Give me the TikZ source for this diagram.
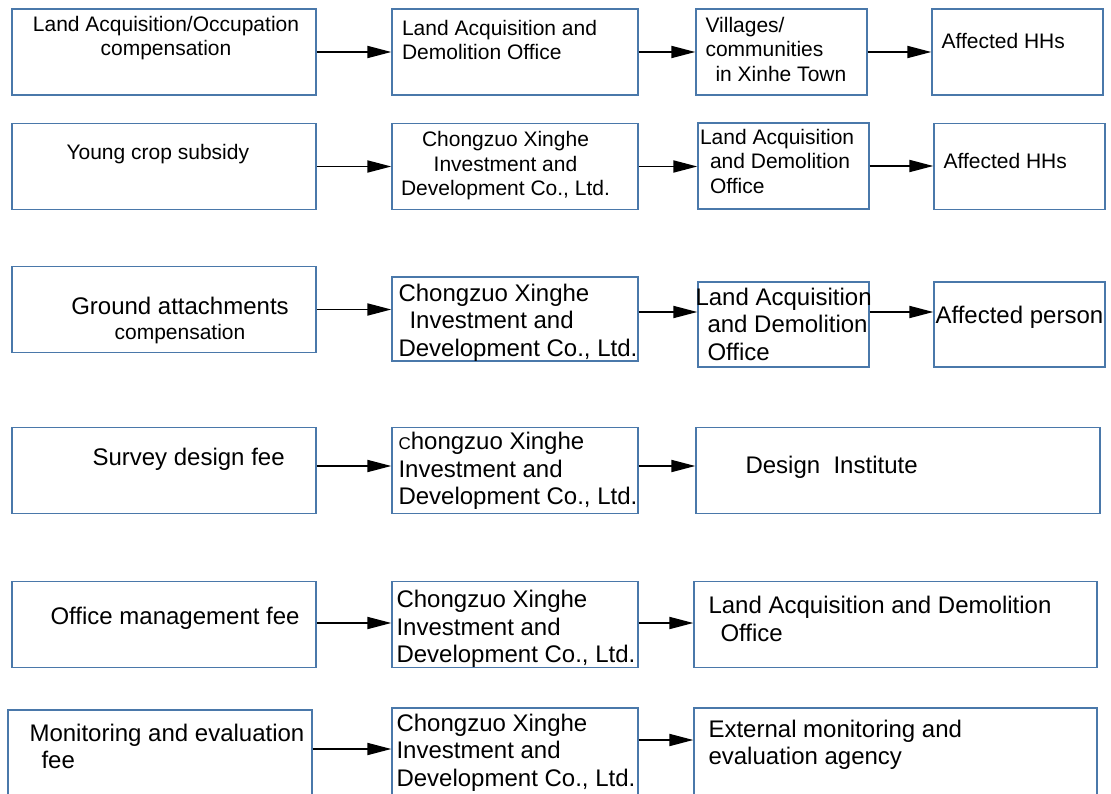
\documentclass[tikz,border=0pt]{standalone}
\usepackage{xcolor}
\usepackage{fontspec}
\setmainfont{Liberation Sans}
\usepackage{tikz}
\usetikzlibrary{arrows.meta, positioning}
\definecolor{boxblue}{RGB}{74,120,170}

\begin{document}
\begin{tikzpicture}[
    x=1pt, y=-1pt,
    box/.style={rectangle, draw=boxblue, line width=1.3pt, minimum height=86pt, inner sep=0pt},
    srcbox/.style={box, minimum width=304pt},
    midbox/.style={box, minimum width=246pt},
    smallbox/.style={box, minimum width=171pt},
    widebox/.style={box, minimum width=404pt},
    txt/.style={inner sep=0pt, align=left, font=\fontsize{21}{24.5}\selectfont},
    bigtxt/.style={inner sep=0pt, align=left, font=\fontsize{24}{27.5}\selectfont},
    flow/.style={-{Triangle[length=24pt, width=12pt]}, line width=1.8pt}
]
\fill[white] (0,0) rectangle (1111,794);
\useasboundingbox (0,0) rectangle (1111,794);

% row 1: land acquisition
\node[srcbox] (landcomp) at (164,52) {};
\node[midbox] (ladoffice) at (515,52) {};
\node[smallbox] (villages) at (781.5,52) {};
\node[smallbox] (hhs) at (1017.5,52) {};
\node[txt, align=center, below=7.5pt of landcomp.north, xshift=2pt] (landcomptxt) {Land Acquisition/Occupation\\compensation};
\node[txt, below right=11.5pt and 10.5pt of ladoffice.north west] (ladofficetxt) {Land Acquisition and\\Demolition Office};
\node[txt, below right=8.5pt and 10pt of villages.north west] (villagestxt) {Villages/\\communities\\\hspace{10pt}in Xinhe Town};
\node[txt, below right=24.5pt and 10pt of hhs.north west] (hhstxt) {Affected HHs};

% row 2: young crops
\node[srcbox] (crop) at (164,166.5) {};
\node[midbox] (cropcompany) at (515,166.5) {};
\node[smallbox] (cropoffice) at (783.5,166) {};
\node[smallbox] (crophhs) at (1019.5,166.5) {};
\node[txt, below right=21.5pt and 55pt of crop.north west] (croptxt) {Young crop subsidy};
\node[txt, align=center, below=8.5pt of cropcompany.north, xshift=-9.5pt] (cropcompanytxt) {Chongzuo Xinghe\\Investment and\\Development Co., Ltd.};
\node[txt, below right=6.5pt and 2.5pt of cropoffice.north west] (cropofficetxt) {Land Acquisition\\\hspace{10pt}and Demolition\\\hspace{10pt}Office};
\node[txt, below right=30.5pt and 10pt of crophhs.north west] (crophhstxt) {Affected HHs};

% row 3: ground attachments
\node[srcbox] (ground) at (164,309.5) {};
\node[midbox, minimum height=84pt] (groundcompany) at (515,319) {};
\node[smallbox, minimum height=85pt] (groundoffice) at (783.5,324.5) {};
\node[smallbox, minimum height=85pt] (person) at (1019.5,324.5) {};
\node[bigtxt, align=center, font=\fontsize{24}{25}\selectfont, below=31.4pt of ground.north, xshift=16pt] (groundtxt) {Ground attachments\\{\fontsize{21}{25}\selectfont compensation}};
\node[bigtxt, below right=7.4pt and 7pt of groundcompany.north west] (groundcompanytxt) {Chongzuo Xinghe\\\hspace{11pt}Investment and\\Development Co., Ltd.};
\node[bigtxt, below right=6.4pt and -2pt of groundoffice.north west] (groundofficetxt) {Land Acquisition\\\hspace{12pt}and Demolition\\\hspace{12pt}Office};
\node[bigtxt, below right=24.4pt and 2pt of person.north west] (persontxt) {Affected person};

% row 4: survey design
\node[srcbox] (survey) at (164,470.5) {};
\node[midbox] (surveycompany) at (515,470.5) {};
\node[widebox] (institute) at (898,470.5) {};
\node[bigtxt, below right=21.4pt and 81pt of survey.north west] (surveytxt) {Survey design fee};
\node[bigtxt, below right=5.4pt and 7pt of surveycompany.north west] (surveycompanytxt) {{\fontsize{17}{17}\selectfont C}hongzuo Xinghe\\Investment and\\Development Co., Ltd.};
\node[bigtxt, below right=29.4pt and 50pt of institute.north west] (institutetxt) {Design\ \ Institute};

% row 5: office management
\node[srcbox] (mgmt) at (164,624.5) {};
\node[midbox] (mgmtcompany) at (515,624.5) {};
\node[widebox, minimum width=403pt] (mgmtoffice) at (895.5,624.5) {};
\node[bigtxt, below right=26.4pt and 39pt of mgmt.north west] (mgmttxt) {Office management fee};
\node[bigtxt, below right=9.4pt and 5pt of mgmtcompany.north west] (mgmtcompanytxt) {Chongzuo Xinghe\\Investment and\\Development Co., Ltd.};
\node[bigtxt, below right=15.4pt and 15pt of mgmtoffice.north west] (mgmtofficetxt) {Land Acquisition and Demolition\\\hspace{12pt}Office};

% row 6: monitoring
\node[srcbox, minimum height=90pt] (monitor) at (160,755) {};
\node[midbox, minimum height=90pt] (monitorcompany) at (515,753) {};
\node[widebox, minimum width=403pt, minimum height=90pt] (agency) at (895.5,753) {};
\node[bigtxt, below right=14.4pt and 22pt of monitor.north west] (monitortxt) {Monitoring and evaluation\\\hspace{12pt}fee};
\node[bigtxt, below right=6.4pt and 5pt of monitorcompany.north west] (monitorcompanytxt) {Chongzuo Xinghe\\Investment and\\Development Co., Ltd.};
\node[bigtxt, below right=12.4pt and 15pt of agency.north west] (agencytxt) {External monitoring and\\evaluation agency};

% arrows
\draw[flow] (landcomp.east) -- (landcomp.east -| ladoffice.west);
\draw[flow] (ladoffice.east) -- (ladoffice.east -| villages.west);
\draw[flow] (villages.east) -- (villages.east -| hhs.west);
\draw[flow] (crop.east) -- (crop.east -| cropcompany.west);
\draw[flow] (cropcompany.east) -- (cropcompany.east -| cropoffice.west);
\draw[flow] (cropoffice.east) -- (cropoffice.east -| crophhs.west);
\draw[flow] (ground.east) -- (ground.east -| groundcompany.west);
\draw[flow] ([yshift=7pt]groundcompany.east) -- ([yshift=7pt]groundcompany.east -| groundoffice.west);
\draw[flow] ([yshift=12.5pt]groundoffice.east) -- ([yshift=12.5pt]groundoffice.east -| person.west);
\draw[flow] ([yshift=4.5pt]survey.east) -- ([yshift=4.5pt]survey.east -| surveycompany.west);
\draw[flow] ([yshift=4.5pt]surveycompany.east) -- ([yshift=4.5pt]surveycompany.east -| institute.west);
\draw[flow] ([yshift=1.5pt]mgmt.east) -- ([yshift=1.5pt]mgmt.east -| mgmtcompany.west);
\draw[flow] ([yshift=1.5pt]mgmtcompany.east) -- ([yshift=1.5pt]mgmtcompany.east -| mgmtoffice.west);
\draw[flow] ([yshift=6pt]monitor.east) -- ([yshift=6pt]monitor.east -| monitorcompany.west);
\draw[flow] ([yshift=13pt]monitorcompany.east) -- ([yshift=13pt]monitorcompany.east -| agency.west);
\end{tikzpicture}
\end{document}
